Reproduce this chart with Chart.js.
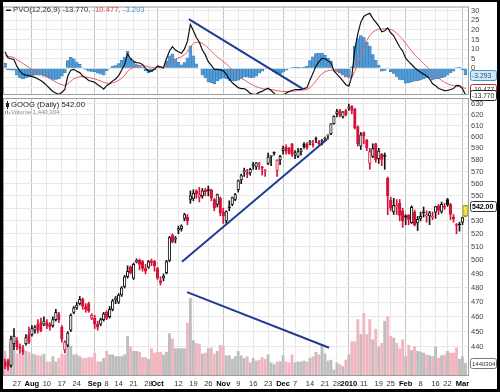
<!DOCTYPE html>
<html>
<head>
<meta charset="utf-8">
<title>GOOG Daily with PVO</title>
<script src="https://cdn.jsdelivr.net/npm/chart.js@4.4.1/dist/chart.umd.min.js"></script>
<style>
  html, body { margin:0; padding:0; background:#000; width:500px; height:392px; overflow:hidden; }
  #inner { position:absolute; left:3px; top:2px; width:494px; height:387px; background:#fff; }
  canvas { position:absolute; left:0; top:0; }
</style>
</head>
<body>
<div id="inner"></div>
<canvas id="pvoChart" width="500" height="392"></canvas>
<canvas id="priceChart" width="500" height="392"></canvas>
<script>
// ---------------- DATA ----------------
const dates = [
'2009-07-21','2009-07-22','2009-07-23','2009-07-24','2009-07-27','2009-07-28','2009-07-29','2009-07-30','2009-07-31',
'2009-08-03','2009-08-04','2009-08-05','2009-08-06','2009-08-07','2009-08-10','2009-08-11','2009-08-12','2009-08-13','2009-08-14',
'2009-08-17','2009-08-18','2009-08-19','2009-08-20','2009-08-21','2009-08-24','2009-08-25','2009-08-26','2009-08-27','2009-08-28','2009-08-31',
'2009-09-01','2009-09-02','2009-09-03','2009-09-04','2009-09-08','2009-09-09','2009-09-10','2009-09-11','2009-09-14','2009-09-15',
'2009-09-16','2009-09-17','2009-09-18','2009-09-21','2009-09-22','2009-09-23','2009-09-24','2009-09-25','2009-09-28','2009-09-29','2009-09-30',
'2009-10-01','2009-10-02','2009-10-05','2009-10-06','2009-10-07','2009-10-08','2009-10-09','2009-10-12','2009-10-13','2009-10-14',
'2009-10-15','2009-10-16','2009-10-19','2009-10-20','2009-10-21','2009-10-22','2009-10-23','2009-10-26','2009-10-27','2009-10-28','2009-10-29','2009-10-30',
'2009-11-02','2009-11-03','2009-11-04','2009-11-05','2009-11-06','2009-11-09','2009-11-10','2009-11-11','2009-11-12','2009-11-13',
'2009-11-16','2009-11-17','2009-11-18','2009-11-19','2009-11-20','2009-11-23','2009-11-24','2009-11-25','2009-11-27','2009-11-30',
'2009-12-01','2009-12-02','2009-12-03','2009-12-04','2009-12-07','2009-12-08','2009-12-09','2009-12-10','2009-12-11',
'2009-12-14','2009-12-15','2009-12-16','2009-12-17','2009-12-18','2009-12-21','2009-12-22','2009-12-23','2009-12-24',
'2009-12-28','2009-12-29','2009-12-30','2009-12-31',
'2010-01-04','2010-01-05','2010-01-06','2010-01-07','2010-01-08','2010-01-11','2010-01-12','2010-01-13','2010-01-14','2010-01-15',
'2010-01-19','2010-01-20','2010-01-21','2010-01-22','2010-01-25','2010-01-26','2010-01-27','2010-01-28','2010-01-29',
'2010-02-01','2010-02-02','2010-02-03','2010-02-04','2010-02-05','2010-02-08','2010-02-09','2010-02-10','2010-02-11','2010-02-12',
'2010-02-16','2010-02-17','2010-02-18','2010-02-19','2010-02-22','2010-02-23','2010-02-24','2010-02-25','2010-02-26',
'2010-03-01','2010-03-02'
];

const opens = [
430,431,428,442,444,440,438,442,448,448,
451,455,456,455,456,455,454,458,462,453,
438,441,451,463,466,469,472,467,469,459,
459,455,455,458,463,460,465,472,470,475,
481,488,495,487,499,500,499,494,495,499,
499,494,485,487,491,500,519,516,523,524,
532,533,547,548,554,549,550,555,555,555,
547,543,548,537,530,541,543,547,555,563,
570,569,569,575,574,576,574,570,577,583,
586,571,580,588,591,590,594,584,583,587,
594,594,595,594,598,596,596,598,601,603,
612,621,624,618,624,626,628,625,609,592,
604,597,577,583,594,581,585,583.4,564.5,546.6,
537,541,544,538,534,534.6,528.7,537,528.4,532,
537,534,534,532.9,536.9,542,537.5,541.5,547,543,
533,527,527,529,534
];
const highs = [
432,432,447,452,446,442,441,448,453,454,
454,458,459,460,458,456,460,465,463,454,
444,450,462,467,470,474,473,469,470,462,
461,457,459,463,464,467,472,474,476,481,
489,496,496,498,501,501,500,497,500,501,
500,495,488,490,500,518,520,518,526,527,
536,535,554,555,555,557,556,556,558,555.5,
548,551.5,549,540,538,546,549,552,563,568,
573,572,573,578,578,578,574.5,572,586,584,
587,580,584,592,593,591,594.5,588,590,590,
595,595,597,597,600,597,598,600,602,612,
619,625,625,623,625,630,628.5,626,610,604,
604.5,598,590,594,594.5,590,585.5,586,565.5,549,
548,547,547,540,535,534.9,542,538.5,533.5,537,
541,538,537.5,537,541.5,543,545,544,548,544,
535,528,529,533,542.3
];
const lows = [
426,425,427,438,438,436,435,441,442,447,
449,449,450,454,452,451,453,457,456,443,
436,440,450,462,465,468,465,463,463,458,
452,451,454,457,458,459,464,469,469,474,
480,487,490,486,498,493,492,490,494,496,
492,486,482,485,490,499,513,513,520,522,
530,527,544,546,548,545,548,550,550,546,
538,541,534,528,528,538,542,546,553,560,
566,565,567,572,572,572,567,566,576,575,
584,566,576,585,585,585,583,581,582,584,
590,589,593,591,595,593,593,596,598,602,
611.5,618,618,617,619,624,621,607,592,589,
594,588,572,582,578,577,575,572,534.9,538,
535,535,530,525,527,527,528,526,522.5,530,
533,529,527,531,532,535,536,539,541.5,531,
529,520,522,527,533.5
];
const closes = [
428,427,445,447,440,439,437,446,443,452,
453,451,450.5,457,454,453,458,463,458,445,
443,449,461,466,468,472,467,465,464,461,
455,453,458,462,459,465,471,472.5,475,480,
488,492,491,497,499,497,494,492,499,498.5,
496,487,484,488.5,499,517,514,516,524,526,
535,530,550,552,551.5,551,554,553.5,554.2,548.3,
540.3,551,536,534,537.3,540.3,548.6,551,562.5,566.8,
570.6,567.9,572,576.3,577.5,576.6,573,570,582.4,583.1,
585.7,579.8,583,589.9,587.5,585.7,585,586.3,587.1,589,
591.5,590.5,595.7,593.1,597.8,593.9,596.4,598.7,601.1,611.7,
618.5,622.9,619.4,622.7,620,626.8,624,608.3,594.1,602,
601.1,590.5,587.1,589.9,580,587.6,580.4,583,550,540,
542.4,542.1,534.3,529.9,533,531.1,540.8,526.8,531.3,533.5,
536.4,534.5,536.4,533.1,541.3,538.2,543.2,540.8,542.8,535.1,
531.5,526.4,526.8,532.7,542
];
// volume in millions of shares
const volumeM = [
2.8,1.8,3.5,2.8,2.5,2.6,3.2,2.8,2.7,2.5,
2.4,2.3,2.3,2.5,1.6,1.6,2.2,1.6,2.0,2.5,
2.4,3.5,3.4,2.4,2.4,2.2,2.0,2.0,2.1,2.1,
2.6,1.6,1.6,2.0,2.8,2.4,2.4,2.2,2.2,2.2,
2.4,4.5,3.3,2.8,2.8,2.7,2.1,2.1,1.9,3.1,
2.6,2.7,2.7,2.4,2.7,4.8,4.2,3.1,3.1,3.1,
3.1,6.0,8.8,4.0,3.7,3.6,2.5,2.6,3.1,3.2,
2.5,2.8,3.5,3.4,2.3,2.3,1.9,2.2,2.8,2.3,
2.0,2.2,1.5,2.0,1.7,1.8,2.1,1.9,2.4,1.5,
1.3,1.6,1.6,2.3,1.6,1.5,2.4,1.5,1.6,1.6,
1.7,1.6,2.0,2.2,2.7,2.4,3.5,2.5,1.7,1.8,
0.7,1.5,1.3,1.1,1.8,2.4,3.9,3.9,6.4,4.7,
7.1,4.7,6.4,4.1,5.3,3.3,3.7,6.2,6.7,4.5,
4.3,3.7,3.1,4.1,2.2,3.5,2.9,3.3,2.8,2.7,
2.6,2.4,2.3,2.2,3.3,2.0,2.3,2.4,2.8,2.6,
2.6,3.2,1.9,2.2,1.440304
];
const pvo = [
8.6,5.5,5.0,4.5,1.0,-1.5,-3.0,-3.5,-3.8,-4.3,
-4.7,-5.5,-6.3,-7.5,-9.0,-10.5,-12.0,-12.8,-13.5,-12.5,
-11.0,-4.0,-1.0,-0.5,-1.5,-2.2,-4.0,-5.0,-6.3,-6.8,
-7.2,-8.5,-9.5,-10.8,-9.0,-8.0,-6.5,-5.5,-3.8,-1.0,
2.0,7.5,5.0,3.6,3.0,2.8,2.0,0.0,-1.4,-1.4,
-0.5,1.2,0.8,0.3,5.0,9.0,11.3,9.5,8.6,7.8,
10.0,14.0,22.8,19.5,16.0,13.6,9.5,7.0,3.5,1.5,
-0.5,-0.5,-0.8,-1.3,-3.0,-5.5,-7.5,-8.8,-10.0,-10.5,
-10.5,-11.5,-13.0,-13.5,-13.5,-12.5,-12.0,-11.0,-10.3,-11.5,
-13.0,-14.5,-14.7,-14.0,-13.0,-12.0,-11.5,-11.0,-11.0,-11.0,
-10.5,-10.0,-6.0,-2.5,1.2,3.5,5.2,5.0,4.0,3.0,
-1.3,-3.0,-4.7,-6.5,-8.5,-9.3,-4.0,10.0,18.0,24.0,
27.0,28.0,28.6,26.0,24.0,22.0,19.0,19.5,21.0,18.5,
16.9,14.0,11.1,9.0,5.3,3.5,2.0,0.3,-1.0,-2.0,
-3.0,-3.8,-5.5,-8.0,-9.0,-10.5,-11.0,-11.6,-11.5,-11.0,
-10.5,-8.8,-9.0,-10.5,-13.77
];
const pvoSignal = [
6.5,6.3,6.0,5.5,4.5,3.5,2.5,1.5,0.5,-0.5,
-1.3,-2.0,-2.8,-3.5,-4.5,-5.3,-6.3,-7.0,-8.0,-8.5,
-8.8,-8.0,-6.7,-5.5,-4.8,-4.3,-4.3,-4.5,-4.8,-5.2,
-5.5,-6.0,-6.5,-7.3,-7.7,-7.8,-7.5,-7.0,-6.3,-5.2,
-3.8,-1.5,-0.3,0.5,1.0,1.3,1.4,1.2,0.8,0.5,
0.3,0.5,0.6,0.5,1.3,2.5,3.8,4.8,5.5,6.0,
7.0,8.5,11.3,13.0,13.6,13.6,13.0,12.0,10.5,9.0,
7.5,6.0,4.8,3.5,2.3,0.8,-0.8,-2.3,-3.8,-5.0,
-6.0,-7.0,-8.0,-8.8,-9.5,-10.0,-10.5,-10.8,-10.8,-11.0,
-11.2,-11.6,-11.8,-12.0,-12.0,-12.0,-11.9,-11.7,-11.5,-11.4,
-11.2,-11.0,-10.0,-8.5,-6.5,-4.5,-2.8,-1.8,-1.2,-0.9,
-1.0,-1.5,-2.2,-3.0,-4.0,-5.0,-4.8,-1.5,2.5,7.0,
11.0,14.5,17.0,18.8,19.8,20.3,20.5,20.6,20.7,20.2,
19.5,18.2,16.8,15.0,13.0,11.0,9.0,7.0,5.5,4.0,
2.5,1.0,-0.5,-2.0,-3.5,-5.0,-6.2,-7.2,-8.0,-8.6,
-9.0,-9.2,-9.5,-9.8,-10.477
];
const pvoHist = [
2.6,-0.8,-1.0,-1.0,-3.5,-5.0,-5.5,-5.0,-4.3,-3.8,
-3.4,-3.5,-3.5,-4.0,-4.5,-5.2,-5.7,-5.8,-5.5,-4.0,
-2.2,4.0,5.7,5.0,3.3,2.1,0.3,-0.5,-1.5,-1.6,
-1.7,-2.5,-3.0,-3.5,-1.3,-0.2,1.0,1.5,2.5,4.2,
5.8,9.0,5.3,3.1,2.0,1.5,0.6,-1.2,-2.2,-1.9,
-0.8,0.7,0.2,-0.2,3.7,6.5,7.5,4.7,3.1,1.8,
3.0,5.5,11.5,6.5,2.4,0.0,-3.5,-5.0,-7.0,-7.5,
-8.0,-6.5,-5.6,-4.8,-5.3,-6.3,-6.7,-6.5,-6.2,-5.5,
-4.5,-4.5,-5.0,-4.7,-4.0,-2.5,-1.5,-0.2,0.5,-0.5,
-1.8,-2.9,-2.9,-2.0,-1.0,0.0,0.4,0.7,0.5,0.4,
0.7,1.0,4.0,6.0,7.7,8.0,8.0,6.8,5.2,3.9,
-0.3,-1.5,-2.5,-3.5,-4.5,-4.3,0.8,11.5,15.5,17.0,
16.0,13.5,11.6,7.2,4.2,1.7,-1.5,-1.1,0.3,-1.7,
-2.6,-4.2,-5.7,-6.0,-7.7,-7.5,-7.0,-6.7,-6.5,-6.0,
-5.5,-4.8,-5.0,-6.0,-5.5,-5.5,-4.8,-4.4,-3.5,-2.4,
-1.5,0.4,0.5,-0.7,-3.293
];
const tickDates = ['2009-07-27','2009-08-03','2009-08-10','2009-08-17','2009-08-24','2009-09-01','2009-09-08','2009-09-14',
'2009-09-21','2009-09-28','2009-10-01','2009-10-12','2009-10-19','2009-10-26','2009-11-02','2009-11-09','2009-11-16',
'2009-11-23','2009-12-01','2009-12-07','2009-12-14','2009-12-21','2009-12-28','2010-01-04','2010-01-11','2010-01-19',
'2010-01-25','2010-02-01','2010-02-08','2010-02-16','2010-02-22','2010-03-01'];
const tickLabels = ['27','Aug','10','17','24','Sep','8','14','21','28','Oct','12','19','26','Nov','9','16','23',
'Dec','7','14','21','28','2010','11','19','25','Feb','8','16','22','Mar'];
const priceTicks = [440,450,460,470,480,490,500,510,520,530,540,550,560,570,580,590,600,610,620,630];
const pvoTicks = [30,25,20,15,10,5,0,-5,-10];
// hand-drawn trend lines: [date index, value]
const trendPvo = [{x:61.5, y:25.6}, {x:99.7, y:-10.8}];
const trendPrice = [{x:59.2, y:499}, {x:107.7, y:598}];
const trendVolume = [{x:60.9, y:9.5}, {x:108.4, y:3.2}];

// ---------------- HELPERS ----------------
const FONT = '"Liberation Sans", Arial, sans-serif';
const N = dates.length;
const tickIdx = tickDates.map(d => dates.indexOf(d));
const isMajor = v => { const k = tickIdx.indexOf(v); return k >= 0 && !/^\d{1,2}$/.test(tickLabels[k]); };
const labelFor = v => { const k = tickIdx.indexOf(v); return k >= 0 ? tickLabels[k] : ''; };
const X_MIN = -0.67, X_MAX = 155.18;
const upDay = closes.map((c, i) => c >= (i === 0 ? opens[0] : closes[i - 1]));
const RED = '#d6123a', BLK = '#141414';
const lineCol = i => (upDay[i] ? BLK : RED);

function xAxis(showLabels) {
  return {
    type: 'linear', min: X_MIN, max: X_MAX, offset: false,
    afterBuildTicks: s => { s.ticks = tickIdx.map(v => ({ value: v })); },
    afterFit: s => { s.height = showLabels ? 16 : 0; },
    grid: { offset: false, drawTicks: false, lineWidth: 1,
      color: c => (c.tick && isMajor(c.tick.value)) ? '#c6c6c6' : '#e8e8e8' },
    border: { display: false },
    ticks: {
      display: showLabels, autoSkip: false, maxRotation: 0, minRotation: 0, padding: 3,
      callback: v => labelFor(v),
      color: c => (c.tick && isMajor(c.tick.value)) ? '#000' : '#333',
      font: c => ({ family: FONT, size: 7.5, weight: (c.tick && isMajor(c.tick.value)) ? 'bold' : 'normal' })
    }
  };
}
function rr(ctx, x, y, w, h, r) {
  ctx.beginPath();
  ctx.moveTo(x + r, y); ctx.lineTo(x + w - r, y); ctx.quadraticCurveTo(x + w, y, x + w, y + r);
  ctx.lineTo(x + w, y + h - r); ctx.quadraticCurveTo(x + w, y + h, x + w - r, y + h);
  ctx.lineTo(x + r, y + h); ctx.quadraticCurveTo(x, y + h, x, y + h - r);
  ctx.lineTo(x, y + r); ctx.quadraticCurveTo(x, y, x + r, y); ctx.closePath();
}
function valueBox(ctx, x, yc, text, fill, stroke, color, bold, size) {
  const w = 26, h = 10, y0 = Math.round(yc - h / 2) + 0.5, x0 = x + 0.5;
  rr(ctx, x0, y0, w, h, 2);
  ctx.fillStyle = fill; ctx.fill();
  ctx.strokeStyle = stroke; ctx.lineWidth = 1; ctx.stroke();
  ctx.fillStyle = color; ctx.font = (bold ? 'bold ' : '') + (size || 7) + 'px ' + FONT;
  ctx.textBaseline = 'middle'; ctx.textAlign = 'left';
  ctx.fillText(text, x0 + 1.5, y0 + h / 2 + 0.5);
}

const pvoDecor = {
  id: 'pvoDecor',
  afterDraw(chart) {
    const { ctx, chartArea: a, scales: { y } } = chart;
    ctx.save();
    ctx.strokeStyle = '#9c9c9c'; ctx.lineWidth = 1;
    ctx.strokeRect(a.left + 0.5, a.top + 0.5, a.right - a.left - 1, a.bottom - a.top - 1);
    ctx.fillStyle = '#222'; ctx.fillRect(6, 9.5, 5, 1.5);
    ctx.font = '7.7px ' + FONT; ctx.textBaseline = 'middle'; ctx.textAlign = 'left';
    let x = 13;
    const parts = [['PVO(12,26,9) ', '#333'], [pvo[N - 1].toFixed(3) + ', ', '#333'],
                   [pvoSignal[N - 1].toFixed(3) + ', ', '#d64545'], [pvoHist[N - 1].toFixed(3), '#4a94cc']];
    for (const [t, c] of parts) { ctx.fillStyle = c; ctx.fillText(t, x, 10); x += ctx.measureText(t).width; }
    valueBox(ctx, a.right + 1, y.getPixelForValue(pvoHist[N - 1]), pvoHist[N - 1].toFixed(3), '#d3e8f7', '#4a94cc', '#1d4f7a', false, 6.8);
    valueBox(ctx, a.right + 1, y.getPixelForValue(pvoSignal[N - 1]), pvoSignal[N - 1].toFixed(3), '#ffffff', '#c42e2e', '#333', false, 6.5);
    valueBox(ctx, a.right + 1, y.getPixelForValue(pvo[N - 1]), pvo[N - 1].toFixed(3), '#ffffff', '#222', '#222', false, 6.5);
    ctx.restore();
  }
};

const mainDecor = {
  id: 'mainDecor',
  afterDatasetsDraw(chart) {
    const { ctx, scales: { x, y } } = chart;
    const i = N - 1, px = x.getPixelForValue(i);
    const t = y.getPixelForValue(Math.max(opens[i], closes[i])), b = y.getPixelForValue(Math.min(opens[i], closes[i]));
    ctx.save();
    ctx.fillStyle = '#f1e24a'; ctx.strokeStyle = '#a99b22'; ctx.lineWidth = 1;
    ctx.fillRect(px - 2.5, t, 5, b - t); ctx.strokeRect(px - 2.5, t, 5, b - t);
    ctx.restore();
  },
  afterDraw(chart) {
    const { ctx, chartArea: a, scales: { y, yv } } = chart;
    ctx.save();
    ctx.strokeStyle = '#9c9c9c'; ctx.lineWidth = 1;
    ctx.strokeRect(a.left + 0.5, a.top + 0.5, a.right - a.left - 1, a.bottom - a.top - 1);
    ctx.textBaseline = 'middle'; ctx.textAlign = 'left';
    ctx.fillStyle = '#222'; ctx.fillRect(7, 101, 1, 8); ctx.fillRect(6, 103, 3, 4);
    ctx.font = '7.7px ' + FONT;
    ctx.fillText('GOOG (Daily) ' + closes[N - 1].toFixed(2), 11, 105);
    ctx.fillStyle = '#9a9a9a'; ctx.fillRect(5, 111, 1, 3); ctx.fillRect(7, 110, 1, 4); ctx.fillRect(9, 112, 1, 2);
    ctx.font = '6px ' + FONT; ctx.fillStyle = '#8a8a8a';
    ctx.fillText('Volume ' + Math.round(volumeM[N - 1] * 1e6).toLocaleString('en-US'), 11, 112);
    valueBox(ctx, a.right + 1, y.getPixelForValue(closes[N - 1]), closes[N - 1].toFixed(2), '#ffffff', '#333', '#000', true, 7);
    valueBox(ctx, a.right + 1, yv.getPixelForValue(volumeM[N - 1]), String(Math.round(volumeM[N - 1] * 1e6)), '#ffffff', '#777', '#333', false, 6);
    ctx.restore();
  }
};

const common = { responsive: false, animation: false, events: [],
  plugins: { legend: { display: false }, tooltip: { enabled: false } } };

// ---------------- PVO PANEL ----------------
new Chart(document.getElementById('pvoChart'), {
  type: 'bar',
  data: { datasets: [
    { type: 'line', data: trendPvo, borderColor: '#1f3b94', borderWidth: 2, pointRadius: 0, order: 0 },
    { type: 'line', data: pvo.map((v, i) => ({ x: i, y: v })), borderColor: '#111', borderWidth: 1.2, pointRadius: 0, order: 1 },
    { type: 'line', data: pvoSignal.map((v, i) => ({ x: i, y: v })), borderColor: '#e46060', borderWidth: 1, pointRadius: 0, order: 2 },
    { type: 'bar', data: pvoHist.map((v, i) => ({ x: i, y: v })), backgroundColor: '#519cd6', borderColor: '#2f74b2',
      borderWidth: 0.5, barThickness: 3, grouped: false, order: 3 }
  ]},
  options: Object.assign({}, common, {
    layout: { autoPadding: false, padding: { left: 3, top: 3, right: 0, bottom: 297 } },
    scales: {
      x: xAxis(false),
      y: { position: 'right', min: -13.85, max: 32.15,
        afterBuildTicks: s => { s.ticks = pvoTicks.map(v => ({ value: v })); },
        afterFit: s => { s.width = 31; },
        grid: { color: '#e8e8e8', drawTicks: false }, border: { display: false },
        ticks: { padding: 2, autoSkip: false, color: '#444', font: { family: FONT, size: 7.5 }, callback: v => String(v) } }
    }
  }),
  plugins: [pvoDecor]
});

// ---------------- PRICE + VOLUME PANEL ----------------
new Chart(document.getElementById('priceChart'), {
  type: 'bar',
  data: { datasets: [
    { type: 'line', data: trendPrice, yAxisID: 'y', borderColor: '#1f3b94', borderWidth: 2, pointRadius: 0, order: 0 },
    { type: 'line', data: trendVolume, yAxisID: 'yv', borderColor: '#1f3b94', borderWidth: 2, pointRadius: 0, order: 0 },
    { type: 'bar', data: dates.map((d, i) => ({ x: i, y: [opens[i], closes[i]] })), yAxisID: 'y',
      barThickness: 2.6, minBarLength: 1, grouped: false, borderSkipped: false, borderWidth: 1,
      backgroundColor: c => { const i = c.dataIndex; if (i === undefined) return '#fff';
        return closes[i] >= opens[i] ? '#ffffff' : lineCol(i); },
      borderColor: c => lineCol(c.dataIndex), order: 1 },
    { type: 'bar', data: dates.map((d, i) => ({ x: i, y: [lows[i], highs[i]] })), yAxisID: 'y',
      barThickness: 1, grouped: false, borderWidth: 0, backgroundColor: c => lineCol(c.dataIndex), order: 2 },
    { type: 'bar', data: volumeM.map((v, i) => ({ x: i, y: v })), yAxisID: 'yv',
      barThickness: 2.2, grouped: false, borderWidth: 0,
      backgroundColor: c => upDay[c.dataIndex] ? '#bdbdbd' : '#f1b5bf', order: 3 }
  ]},
  options: Object.assign({}, common, {
    layout: { autoPadding: false, padding: { left: 3, top: 98, right: 0, bottom: 0 } },
    scales: {
      x: xAxis(true),
      y: { type: 'logarithmic', position: 'right', min: 421.4, max: 635.6,
        afterBuildTicks: s => { s.ticks = priceTicks.map(v => ({ value: v })); },
        afterFit: s => { s.width = 31; },
        grid: { color: '#e8e8e8', drawTicks: false }, border: { display: false },
        ticks: { padding: 2, autoSkip: false, color: '#444', font: { family: FONT, size: 7.5 }, callback: v => String(v) } },
      yv: { type: 'linear', display: false, min: 0, max: 31.5 }
    }
  }),
  plugins: [mainDecor]
});
</script>
</body>
</html>
